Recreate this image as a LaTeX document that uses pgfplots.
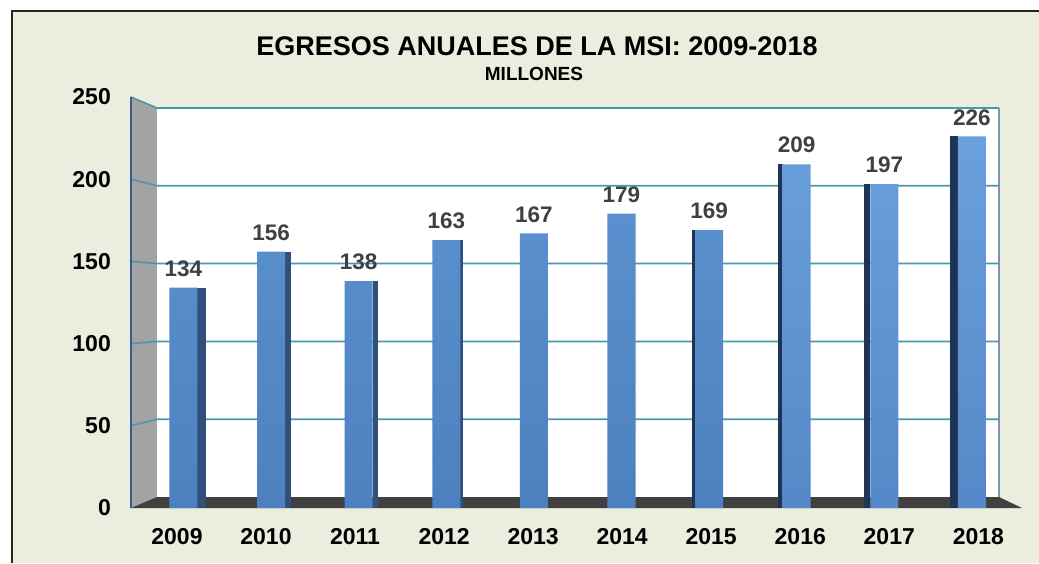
\documentclass[border=0pt]{standalone}
\usepackage{fontspec}
\setmainfont{Liberation Sans}
\usepackage{pgfplots}
\pgfplotsset{compat=1.18}
\definecolor{bg}{HTML}{EBEEDE}
\definecolor{gridc}{HTML}{4A98AE}
\definecolor{wallg}{HTML}{A3A3A3}
\definecolor{floorc}{HTML}{404040}
\definecolor{sideR}{HTML}{30507C}
\definecolor{sideL}{HTML}{1F3352}
\definecolor{lab}{HTML}{404040}
\definecolor{rightedge}{HTML}{7F94AE}
\definecolor{leftedge}{HTML}{3C5C88}
\definecolor{faceAt}{RGB}{90,144,207}
\definecolor{faceAb}{RGB}{77,128,190}
\definecolor{faceBt}{RGB}{106,160,221}
\definecolor{faceBb}{RGB}{85,136,200}
\begin{document}
\begin{tikzpicture}
\useasboundingbox (-131pt,-55pt) rectangle (908pt,508pt);
\fill[white] (-131pt,-55pt) rectangle (908pt,508pt);
\fill[bg] (-119pt,-55pt) rectangle (908pt,497pt);
\draw[line width=1.3pt, black!85] (-119pt,-55pt) -- (-119pt,497pt) -- (908pt,497pt);
\begin{axis}[
  at={(0,0)}, anchor=south west,
  scale only axis, width=891pt, height=411pt,
  xmin=-0.599, xmax=9.572, ymin=0, ymax=250,
  clip=false,
  axis line style={draw=none},
  major tick length=0pt,
  ytick={0,50,100,150,200,250},
  xtick={-0.074,0.942,1.959,2.975,3.992,5.008,6.024,7.041,8.057,9.074},
  xticklabels={2009,2010,2011,2012,2013,2014,2015,2016,2017,2018},
  /pgf/number format/assume math mode=true,
  ticklabel style={font=\fontsize{23}{26}\selectfont\bfseries, text=black},
  yticklabel style={anchor=east, inner sep=0pt, xshift=-20pt},
  xticklabel style={anchor=center, inner sep=0pt, yshift=-29pt},
]
% left wall
\fill[wallg] (axis cs:-0.599,0) -- (axis cs:-0.3025,6.69) -- (axis cs:-0.3025,243.3) -- (axis cs:-0.599,250) -- cycle;
% back wall
\fill[white] (axis cs:-0.3025,6.69) rectangle (axis cs:9.309,243.3);
\draw[line width=1.2pt, rightedge] (axis cs:9.309,6.69) -- (axis cs:9.309,243.3);
% grid lines
\draw[gridc, line width=1.6pt] (axis cs:-0.599,50) -- (axis cs:-0.3025,54.0) -- (axis cs:9.309,54.0);
\draw[gridc, line width=1.6pt] (axis cs:-0.599,100) -- (axis cs:-0.3025,101.3) -- (axis cs:9.309,101.3);
\draw[gridc, line width=1.6pt] (axis cs:-0.599,150) -- (axis cs:-0.3025,148.7) -- (axis cs:9.309,148.7);
\draw[gridc, line width=1.6pt] (axis cs:-0.599,200) -- (axis cs:-0.3025,196.0) -- (axis cs:9.309,196.0);
\draw[gridc, line width=1.6pt] (axis cs:-0.599,250) -- (axis cs:-0.3025,243.3) -- (axis cs:9.309,243.3);
\draw[leftedge, line width=1.4pt] (axis cs:-0.599,0) -- (axis cs:-0.599,250);
% floor
\fill[floorc] (axis cs:-0.599,0) -- (axis cs:-0.3025,6.69) -- (axis cs:9.309,6.69) -- (axis cs:9.572,0) -- cycle;
% side faces
\addplot[ybar, bar width=0.095, bar shift=0.2075, fill=sideR, draw=none] coordinates {(0,134)};
\addplot[ybar, bar width=0.062, bar shift=0.191, fill=sideR, draw=none] coordinates {(1,156)};
\addplot[ybar, bar width=0.058, bar shift=0.189, fill=sideR, draw=none] coordinates {(2,138)};
\addplot[ybar, bar width=0.035, bar shift=0.1775, fill=sideR, draw=none] coordinates {(3,163)};
\addplot[ybar, bar width=0.035, bar shift=-0.1775, fill=sideL, draw=none] coordinates {(6,169)};
\addplot[ybar, bar width=0.05, bar shift=-0.185, fill=sideL, draw=none] coordinates {(7,209)};
\addplot[ybar, bar width=0.07, bar shift=-0.195, fill=sideL, draw=none] coordinates {(8,197)};
\addplot[ybar, bar width=0.09, bar shift=-0.205, fill=sideL, draw=none] coordinates {(9,226)};
% main faces
\addplot[ybar, bar width=0.32, bar shift=0, draw=none, top color=faceAt, bottom color=faceAb] coordinates {(0,134)(1,156)(2,138)(3,163)(4,167)(5,179)(6,169)};
\addplot[ybar, bar width=0.32, bar shift=0, draw=none, top color=faceBt, bottom color=faceBb] coordinates {(7,209)(8,197)(9,226)};
% value labels
\addplot[only marks, mark=none, nodes near coords,
  nodes near coords style={anchor=south, inner sep=0pt, yshift=11pt, text=lab, font=\fontsize{22.5}{25}\selectfont\bfseries}]
  coordinates {(0,134)(1,156)(2,138)(3,163)(4,167)(5,179)(6,169)(7,209)(8,197)(9,226)};
\end{axis}
\node[font=\fontsize{27}{30}\selectfont\bfseries] at (406pt,462pt) {EGRESOS ANUALES DE LA MSI: 2009-2018};
\node[font=\fontsize{19}{22}\selectfont\bfseries] at (403pt,434pt) {MILLONES};
\end{tikzpicture}
\end{document}
